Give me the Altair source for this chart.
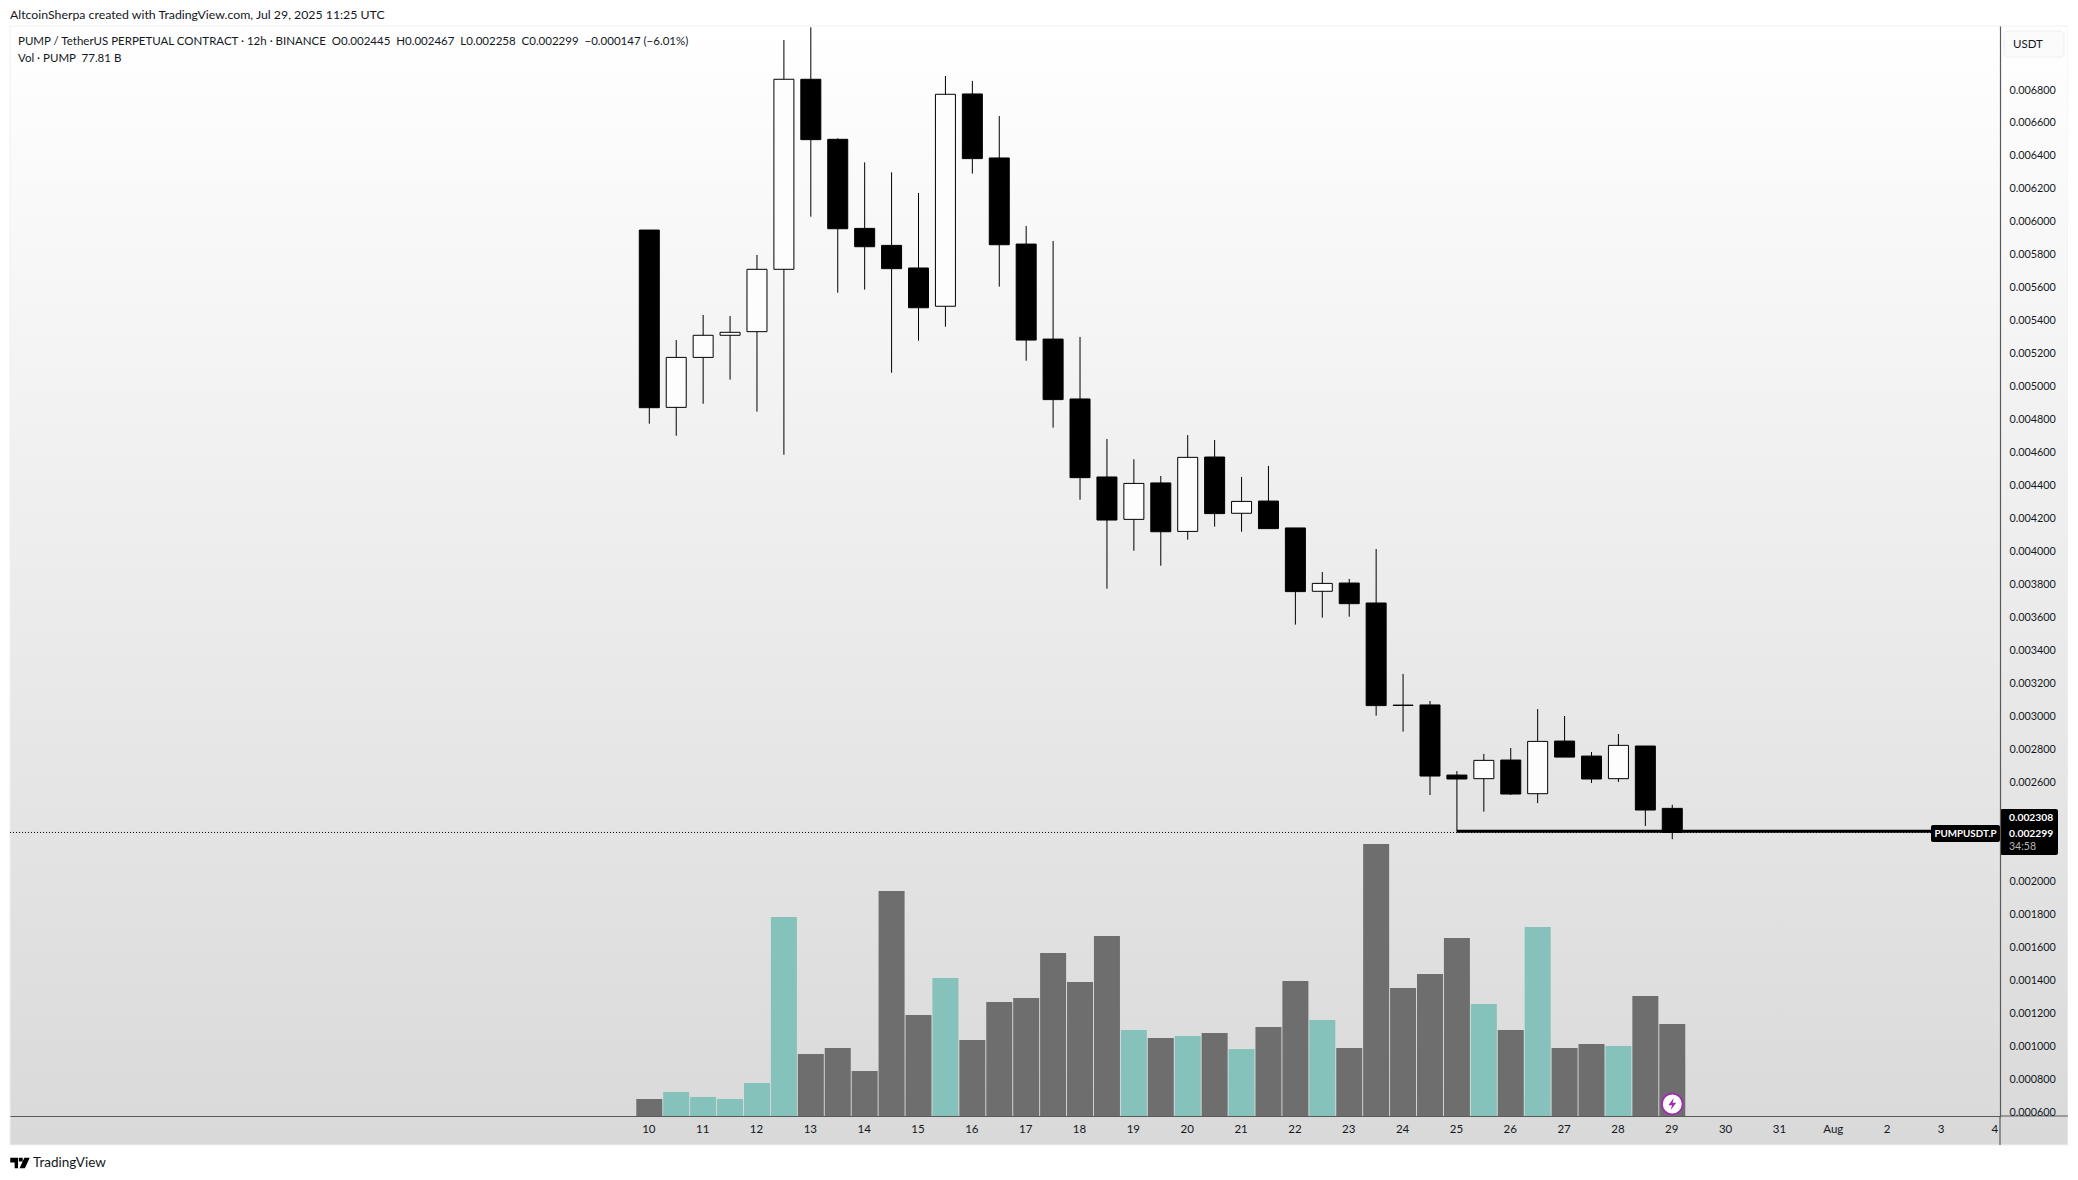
import altair as alt
import pandas as pd

# Day of July for each 12h candle (32 = Aug 1)
days = [10 + i * 0.5 for i in range(39)]
opens = [.005951,.004876,.005179,.005313,.005335,.005713,.006865,.006501,.005961,.005858,.005721,.005489,.006776,
         .006388,.005866,.005290,.004927,.004454,.004197,.004418,.004124,.004575,.004234,.004308,.004145,.003761,
         .003811,.003690,.003071,.003072,.002647,.002625,.002738,.002534,.002853,.002762,.002625,.002823,.002445]
highs = [.005951,.005284,.005436,.005430,.005800,.007103,.007180,.006507,.006361,.006301,.006176,.006885,.006855,
         .006642,.005976,.005885,.005303,.004684,.004561,.004460,.004708,.004678,.004454,.004521,.004145,.003878,
         .003836,.004017,.003260,.003096,.002671,.002775,.002811,.003047,.003005,.002787,.002896,.002823,.002467]
lows = [.004777,.004704,.004898,.005044,.004850,.004589,.006032,.005571,.005590,.005086,.005280,.005365,.006293,
        .005608,.005159,.004753,.004316,.003777,.004007,.003916,.004074,.004153,.004122,.004141,.003559,.003601,
        .003607,.003007,.002910,.002526,.002304,.002425,.002526,.002477,.002756,.002599,.002605,.002338,.002258]
closes = [.004874,.005179,.005313,.005331,.005713,.006865,.006499,.005959,.005850,.005717,.005480,.006774,.006384,
          .005862,.005284,.004923,.004450,.004193,.004415,.004122,.004573,.004232,.004306,.004141,.003759,.003809,
          .003686,.003068,.003069,.002641,.002623,.002736,.002532,.002851,.002756,.002623,.002827,.002435,.002299]
# Volume in billions of PUMP
volumes = [14.4,20.3,16.1,14.4,27.9,168.3,52.4,57.5,38.1,190.3,85.4,116.7,64.3,96.4,99.8,137.8,113.3,152.2,72.7,66.0,
           67.7,70.2,56.7,75.3,114.2,81.2,57.5,230.0,108.2,120.1,150.5,94.7,72.7,159.8,57.5,60.9,59.2,101.5,77.81]
price_ticks = [.0006,.0008,.0010,.0012,.0014,.0016,.0018,.0020,.0026,.0028,.0030,.0032,.0034,.0036,.0038,.0040,
               .0042,.0044,.0046,.0048,.0050,.0052,.0054,.0056,.0058,.0060,.0062,.0064,.0066,.0068]
day_ticks = list(range(10, 36))
last_close = 0.002299
support = 0.002306

FONT = "Lato"
INK = "#131722"
X_DOM = [-1.874, 35.087]
P_DOM = [0.000574, 0.007188]
V_DOM = [-0.85, 922.0]
W, H = 1990, 1091

df = pd.DataFrame({"day": days, "open": opens, "high": highs, "low": lows, "close": closes, "vol": volumes})
df["zero"] = 0
df["top"] = df[["open", "close"]].max(axis=1)
df["bot"] = df[["open", "close"]].min(axis=1)
df["dir"] = ["up" if c >= o else "down" for o, c in zip(opens, closes)]

xs = alt.Scale(domain=X_DOM, nice=False, zero=False, padding=0)
ps = alt.Scale(domain=P_DOM, nice=False, zero=False)
x_axis = alt.Axis(values=day_ticks, grid=False, ticks=False, domainColor="#5a5a5a", domainWidth=1.2,
                  labelFont=FONT, labelFontSize=11.5, labelColor=INK, labelPadding=7, labelFlush=False,
                  labelOverlap=False, labelBound=False, zindex=1, title=None, offset=-1, labelOffset=-1,
                  labelExpr="datum.value == 32 ? 'Aug' : datum.value > 32 ? datum.value - 31 : datum.value")
one = pd.DataFrame({"a": [0]})
base = alt.Chart(df)


def X(field):
    return alt.X(field, scale=xs, axis=x_axis)


def label(text, x, y, size=11.5, color=INK, align="left", weight="normal"):
    return alt.Chart(one).mark_text(text=text, align=align, baseline="middle", font=FONT, fontSize=size,
                                    color=color, fontWeight=weight).encode(x=alt.value(x), y=alt.value(y))


def box(x, x2, y, y2, fill, stroke=None, radius=0):
    kw = {"stroke": stroke, "strokeWidth": 1} if stroke else {}
    return alt.Chart(one).mark_rect(color=fill, cornerRadius=radius, **kw).encode(
        x=alt.value(x), x2=alt.value(x2), y=alt.value(y), y2=alt.value(y2))


gradient = alt.LinearGradient(gradient="linear", x1=0, x2=0, y1=0, y2=1,
                              stops=[alt.GradientStop(color="#ffffff", offset=0),
                                     alt.GradientStop(color="#d9d9d9", offset=1)])
bg = alt.Chart(one).mark_rect(color=gradient, stroke="#f0f0f0", strokeWidth=1).encode(
    x=alt.value(0), x2=alt.value(2058), y=alt.value(0), y2=alt.value(1119))

vol = base.mark_bar(size=26, opacity=1).encode(
    x=X("day:Q"),
    y=alt.Y("vol:Q", scale=alt.Scale(domain=V_DOM, nice=False, zero=False), axis=None),
    y2="zero:Q",
    color=alt.Color("dir:N", scale=alt.Scale(domain=["up", "down"], range=["#84c2bb", "#6e6e6e"]), legend=None),
)

dotted = alt.Chart(pd.DataFrame({"p": [last_close], "x1": [X_DOM[0]], "x2": [X_DOM[1]]})).mark_rule(
    color="#000000", strokeWidth=1, strokeDash=[1, 2]).encode(
    x=X("x1:Q"), x2="x2:Q", y=alt.Y("p:Q", scale=ps, axis=None))
thick = alt.Chart(pd.DataFrame({"p": [support], "x1": [25.0], "x2": [33.81]})).mark_rule(
    color="#000000", strokeWidth=3).encode(
    x=X("x1:Q"), x2="x2:Q", y=alt.Y("p:Q", scale=ps, axis=None))

wicks = base.mark_rule(color="#000000", strokeWidth=1).encode(
    x=X("day:Q"),
    y=alt.Y("high:Q", scale=ps, title=None,
            axis=alt.Axis(orient="right", values=price_ticks, format=".6f", grid=False, ticks=False,
                          domainColor="#5a5a5a", domainWidth=1.2, labelFont=FONT, labelFontSize=10.8, labelColor=INK,
                          labelPadding=9, labelOverlap=False, labelFlush=False, labelBound=False, zindex=1)),
    y2="low:Q",
)
bodies = base.mark_bar(size=20, stroke="#000000", strokeWidth=1).encode(
    x=X("day:Q"),
    y=alt.Y("top:Q", scale=ps, axis=None),
    y2="bot:Q",
    color=alt.Color("dir:N", scale=alt.Scale(domain=["up", "down"], range=["#fdfdfd", "#000000"]), legend=None),
)

last = df.tail(1)
ring = alt.Chart(last).mark_point(shape="circle", size=430, filled=True, fill="#ffffff", stroke="#a32bb5",
                                  strokeWidth=1.8, opacity=1).encode(x=X("day:Q"), y=alt.value(1078))
bolt = alt.Chart(last).mark_point(
    shape="M0.25,-1 L-0.65,0.2 L-0.05,0.2 L-0.25,1 L0.65,-0.2 L0.05,-0.2 Z",
    size=150, filled=True, fill="#a32bb5", opacity=1, strokeWidth=0).encode(x=X("day:Q"), y=alt.value(1078))

v_line = alt.Chart(one).mark_rule(color="#5a5a5a", strokeWidth=1.2).encode(
    x=alt.value(W), y=alt.value(H - 1), y2=alt.value(1119))
h_line = alt.Chart(one).mark_rule(color="#5a5a5a", strokeWidth=1.2).encode(
    x=alt.value(W), x2=alt.value(2058), y=alt.value(H - 1))

logo = alt.Chart(one).mark_point(
    shape="M-1,-0.55 L-0.2,-0.55 L-0.2,0.55 L-0.55,0.55 L-0.55,-0.05 L-1,-0.05 Z "
          "M0.45,-0.55 L1,-0.55 L0.5,0.55 L-0.05,0.55 Z "
          "M-0.12,-0.55 L0.28,-0.55 L0.28,-0.15 L-0.12,-0.15 Z",
    size=380, filled=True, fill="#000000", opacity=1, strokeWidth=0).encode(x=alt.value(10), y=alt.value(1137))

NB = "\u00a0"
layers = [
    bg, vol, dotted, thick, wicks, bodies, ring, bolt, v_line, h_line,
    label("AltcoinSherpa created with TradingView.com, Jul 29, 2025 11:25 UTC", 0, -11, 12.3),
    label(f"PUMP / TetherUS PERPETUAL CONTRACT · 12h · BINANCE{NB}{NB}O0.002445{NB}{NB}H0.002467{NB}{NB}L0.002258"
          f"{NB}{NB}C0.002299{NB}{NB}−0.000147 (−6.01%)", 8, 15.5),
    label(f"Vol · PUMP{NB}{NB}77.81{NB}B", 8, 33),
    box(1994, 2054, 5, 31, "#fbfbfb", "#efefef", 4),
    label("USDT", 2003, 19),
    box(1921, 1990, 799, 816, "#000000", None, 2),
    label("PUMPUSDT.P", 1955.5, 807.5, 9.8, "#ffffff", "center", "bold"),
    box(1990, 2048, 783, 829, "#000000", None, 2),
    label("0.002308", 1999, 792, 10.3, "#ffffff", "left", "bold"),
    label("0.002299", 1999, 808, 10.3, "#ffffff", "left", "bold"),
    label("34:58", 1999, 821, 10.5, "#b8b8b8"),
    logo,
    label("TradingView", 23, 1137, 13.5),
]

chart = alt.layer(*layers).resolve_scale(y="independent", color="independent").properties(
    width=W, height=H,
    padding={"left": 2, "top": 18, "right": 68, "bottom": 60},
    autosize=alt.AutoSizeParams(type="none"),
    background="#ffffff",
).configure_view(stroke=None)

chart.save("out.html", embed_options={"renderer": "svg", "actions": False})
